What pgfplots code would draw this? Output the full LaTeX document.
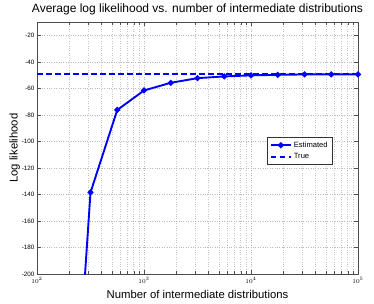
\documentclass[border=0pt]{standalone}
\usepackage{fontspec}
\setmainfont{Liberation Sans}
\usepackage{pgfplots}
\pgfplotsset{compat=1.18}
\begin{document}
\begin{tikzpicture}
\begin{axis}[
  scale only axis,
  width=321pt, height=252pt,
  xmode=log,
  xmin=100, xmax=100000,
  ymin=-200, ymax=-10,
  ytick={-200,-180,-160,-140,-120,-100,-80,-60,-40,-20},
  yticklabel style={font=\fontsize{6.3}{7}\selectfont, xshift=1pt},
  xticklabel style={font=\fontsize{6}{7}\selectfont},
  /pgf/number format/assume math mode=true,
  grid=both,
  major grid style={dotted, gray!55},
  minor grid style={dotted, gray!45},
  tick align=inside,
  axis line style={gray!60!black},
  tick style={gray!60!black},
  title={Average log likelihood vs. number of intermediate distributions},
  title style={font=\fontsize{12}{13}\selectfont, yshift=-2pt},
  xlabel={Number of intermediate distributions},
  ylabel={Log likelihood},
  label style={font=\fontsize{11.3}{12}\selectfont},
  xlabel style={yshift=0pt},
  ylabel style={yshift=-5pt},
  legend style={at={(0.717,0.544)}, anchor=north west, font=\fontsize{7.6}{8.5}\selectfont, draw=black!80, line width=0.6pt, inner sep=2.5pt, row sep=0.5pt},
  legend image code/.code={\draw[mark repeat=2,mark phase=2,#1] plot coordinates {(0pt,0pt) (10pt,0pt) (20pt,0pt)};},
  legend cell align=left,
  clip=true,
]
\addplot[blue, line width=1.9pt, mark=*, mark size=1.9pt] coordinates {
 (177.8,-440) (316.2,-138.5) (562.3,-76.3) (1000,-61.6) (1778,-55.8) (3162,-52.3) (5623,-51.0) (10000,-50.2) (17783,-49.8) (31623,-49.5) (56234,-49.5) (100000,-49.4)
};
\addlegendentry{Estimated}
\addplot[blue, line width=1.9pt, dash pattern=on 5.5pt off 3.5pt] coordinates {(100,-49.1) (100000,-49.1)};
\addlegendentry{True}
\end{axis}
\path ([shift={(-37pt,-29pt)}]current axis.south west) rectangle ([shift={(16pt,21pt)}]current axis.north east);
\end{tikzpicture}
\end{document}
